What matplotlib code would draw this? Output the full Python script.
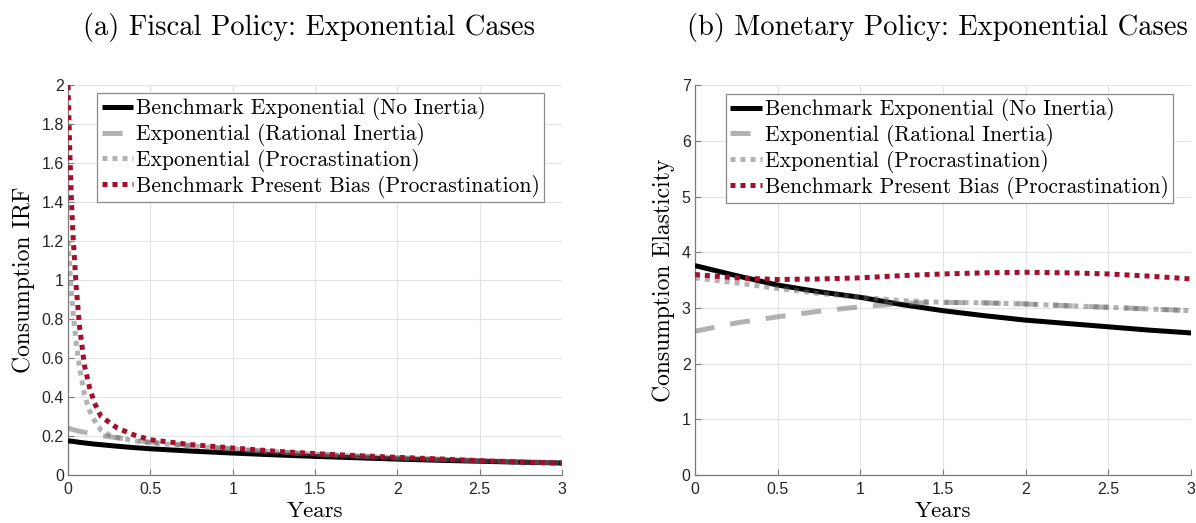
import matplotlib
matplotlib.use("Agg")
import matplotlib.pyplot as plt

# ---------------- data ----------------
t_fiscal = [0, 0.01, 0.02, 0.03, 0.05, 0.07, 0.1, 0.13, 0.16, 0.2, 0.25, 0.3,
            0.4, 0.5, 0.75, 1.0, 1.25, 1.5, 1.75, 2.0, 2.25, 2.5, 2.75, 3.0]
fiscal_bench_exp = [0.175, 0.174, 0.173, 0.172, 0.1695, 0.167, 0.164, 0.161, 0.158, 0.155,
                    0.151, 0.147, 0.140, 0.134, 0.122, 0.112, 0.103, 0.095, 0.088, 0.081,
                    0.075, 0.070, 0.065, 0.061]
fiscal_exp_rational = [0.240, 0.238, 0.235, 0.232, 0.228, 0.224, 0.219, 0.213, 0.208, 0.202,
                       0.196, 0.190, 0.178, 0.168, 0.150, 0.132, 0.118, 0.106, 0.096, 0.087,
                       0.080, 0.073, 0.067, 0.062]
fiscal_exp_procrast = [1.20, 1.06, 0.94, 0.84, 0.67, 0.55, 0.41, 0.33, 0.28, 0.230,
                       0.205, 0.192, 0.175, 0.165, 0.148, 0.132, 0.118, 0.106, 0.096, 0.087,
                       0.080, 0.073, 0.067, 0.062]
fiscal_pb_procrast = [2.00, 1.68, 1.42, 1.23, 0.96, 0.76, 0.56, 0.45, 0.37, 0.30,
                      0.27, 0.24, 0.205, 0.180, 0.155, 0.138, 0.122, 0.109, 0.099, 0.090,
                      0.082, 0.073, 0.066, 0.060]

t_monetary = [0, 0.25, 0.5, 0.75, 1.0, 1.25, 1.5, 1.75, 2.0, 2.25, 2.5, 2.75, 3.0]
mon_bench_exp = [3.76, 3.58, 3.41, 3.29, 3.19, 3.06, 2.95, 2.86, 2.78, 2.72, 2.66, 2.60, 2.55]
mon_exp_rational = [2.58, 2.73, 2.84, 2.94, 3.02, 3.08, 3.10, 3.09, 3.07, 3.04, 3.01, 2.98, 2.95]
mon_exp_procrast = [3.54, 3.45, 3.35, 3.26, 3.19, 3.13, 3.10, 3.09, 3.07, 3.04, 3.01, 2.98, 2.95]
mon_pb_procrast = [3.60, 3.54, 3.51, 3.52, 3.54, 3.58, 3.61, 3.63, 3.64, 3.63, 3.61, 3.57, 3.52]

labels = ["Benchmark Exponential (No Inertia)",
          "Exponential (Rational Inertia)",
          "Exponential (Procrastination)",
          "Benchmark Present Bias (Procrastination)"]
titles = ["(a) Fiscal Policy: Exponential Cases",
          "(b) Monetary Policy: Exponential Cases"]
ylabels = ["Consumption IRF", "Consumption Elasticity"]
xticks = [0, 0.5, 1, 1.5, 2, 2.5, 3]
xticklabels = ["0", "0.5", "1", "1.5", "2", "2.5", "3"]
yticks_fiscal = [0, 0.2, 0.4, 0.6, 0.8, 1.0, 1.2, 1.4, 1.6, 1.8, 2.0]
yticklabels_fiscal = ["0", "0.2", "0.4", "0.6", "0.8", "1", "1.2", "1.4", "1.6", "1.8", "2"]
yticks_mon = [0, 1, 2, 3, 4, 5, 6, 7]
yticklabels_mon = ["0", "1", "2", "3", "4", "5", "6", "7"]

# ---------------- style ----------------
CM = "cmr10"
TICKFONT = "Liberation Sans"
black = "#000000"
gray = "#666666"
red = "#a50f2d"
axis_col = "#7a7a7a"
LW = 3.6

fig = plt.figure(figsize=(11.96, 5.23), dpi=100)
ax1 = fig.add_axes([0.0569, 0.092, 0.4131, 0.745])
ax2 = fig.add_axes([0.5810, 0.092, 0.4150, 0.745])

panels = [
    (ax1, t_fiscal, [fiscal_bench_exp, fiscal_exp_rational, fiscal_exp_procrast, fiscal_pb_procrast],
     (0, 2), yticks_fiscal, yticklabels_fiscal, (0.059, 0.98)),
    (ax2, t_monetary, [mon_bench_exp, mon_exp_rational, mon_exp_procrast, mon_pb_procrast],
     (0, 7), yticks_mon, yticklabels_mon, (0.063, 0.978)),
]

for i, (ax, t, series, ylim, yt, ytl, anchor) in enumerate(panels):
    ax.plot(t, series[0], color=black, lw=LW, solid_capstyle="butt", label=labels[0], zorder=3)
    ax.plot(t, series[1], color=gray, alpha=0.5, lw=LW, dashes=(4, 3.2),
            dash_capstyle="butt", label=labels[1], zorder=4)
    ax.plot(t, series[2], color=gray, alpha=0.5, lw=LW, dashes=(1, 1),
            dash_capstyle="butt", label=labels[2], zorder=5)
    ax.plot(t, series[3], color=red, lw=LW, dashes=(1, 1),
            dash_capstyle="butt", label=labels[3], zorder=6)
    ax.set_xlim(0, 3)
    ax.set_ylim(*ylim)
    ax.set_xticks(xticks)
    ax.set_xticklabels(xticklabels, fontfamily=TICKFONT, fontsize=11.5, color="#262626")
    ax.set_yticks(yt)
    ax.set_yticklabels(ytl, fontfamily=TICKFONT, fontsize=11.5, color="#262626")
    ax.tick_params(direction="in", length=4, width=0.8, color=axis_col)
    ax.tick_params(axis="x", pad=5)
    ax.tick_params(axis="y", pad=3)
    ax.grid(True, color="#e3e3e3", lw=0.8)
    ax.set_axisbelow(True)
    for s in ["top", "right"]:
        ax.spines[s].set_visible(False)
    for s in ["left", "bottom"]:
        ax.spines[s].set_color(axis_col)
        ax.spines[s].set_linewidth(0.9)
    ax.set_xlabel("Years", fontfamily=CM, fontsize=16.5, labelpad=3)
    ax.set_ylabel(ylabels[i], fontfamily=CM, fontsize=17, labelpad=5)
    ax.set_title(titles[i], fontfamily=CM, fontsize=20.5, pad=36, x=0.488)
    leg = ax.legend(loc="upper left", bbox_to_anchor=anchor, borderaxespad=0,
                    prop={"family": CM, "size": 15.5}, handlelength=1.45,
                    handletextpad=0.15, borderpad=0.2, labelspacing=0.13,
                    fancybox=False, framealpha=1, edgecolor="#8a8a8a")
    leg.get_frame().set_linewidth(0.9)

fig.savefig("out.png", dpi=100)
